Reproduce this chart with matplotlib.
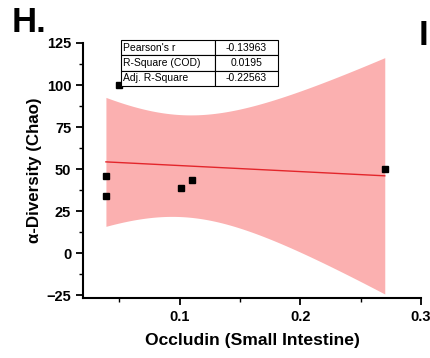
import numpy as np
import matplotlib.pyplot as plt
from matplotlib.ticker import MultipleLocator

plt.rcParams['font.family'] = ['Liberation Sans', 'DejaVu Sans']

# Occludin (small intestine) vs Chao index
occludin = [0.039, 0.039, 0.0495, 0.101, 0.110, 0.270]
chao = [46.0, 34.0, 100.0, 39.0, 43.5, 50.0]

stat_names = ["Pearson's r", 'R-Square (COD)', 'Adj. R-Square']
stat_values = ['-0.13963', '0.0195', '-0.22563']

x = np.array(occludin)
y = np.array(chao)
n = len(x)

# linear fit and 95% confidence band of the mean
slope, intercept = np.polyfit(x, y, 1)
resid = y - (slope * x + intercept)
s = np.sqrt(np.sum(resid ** 2) / (n - 2))
sxx = np.sum((x - x.mean()) ** 2)
t95 = 2.776
xf = np.linspace(x.min(), x.max(), 200)
yf = slope * xf + intercept
half = t95 * s * np.sqrt(1 / n + (xf - x.mean()) ** 2 / sxx)

fig = plt.figure(figsize=(4.3, 3.58), dpi=100)
ax = fig.add_axes([0.193, 0.168, 0.786, 0.712])

ax.fill_between(xf, yf - half, yf + half, color='#fbb0b0', lw=0, zorder=1)
ax.plot(xf, yf, color='#e3262b', lw=1.0, zorder=2)
ax.plot(x, y, 's', color='black', ms=4.5, zorder=3)

ax.set_xlim(0.02, 0.3)
ax.set_ylim(-26.5, 125)
ax.xaxis.set_major_locator(MultipleLocator(0.1))
ax.xaxis.set_minor_locator(MultipleLocator(0.05))
ax.yaxis.set_major_locator(MultipleLocator(25))
ax.yaxis.set_minor_locator(MultipleLocator(12.5))
ax.set_xticks([0.1, 0.2, 0.3])
ax.set_xticklabels(['0.1', '0.2', '0.3'])

for side in ['top', 'right']:
    ax.spines[side].set_visible(False)
for side in ['left', 'bottom']:
    ax.spines[side].set_linewidth(1.5)
ax.tick_params(which='major', direction='out', length=5, width=1.3, labelsize=10.5)
ax.tick_params(which='minor', direction='out', length=3, width=1.0)
for lab in ax.get_xticklabels() + ax.get_yticklabels():
    lab.set_fontweight('bold')

ax.set_xlabel('Occludin (Small Intestine)', fontsize=12.6, fontweight='bold', labelpad=7)
ax.set_ylabel('α-Diversity (Chao)', fontsize=12.2, fontweight='bold', labelpad=3)

# statistics table
tab = ax.table(cellText=[[a, b] for a, b in zip(stat_names, stat_values)],
               colWidths=[0.278, 0.186], cellLoc='center',
               bbox=[0.112, 0.831, 0.464, 0.18])
tab.auto_set_font_size(False)
for (r, c), cell in tab.get_celld().items():
    cell.set_linewidth(0.8)
    cell.get_text().set_fontsize(7.5)
    if c == 0:
        cell.get_text().set_ha('left')
        cell.PAD = 0.02
tab.set_zorder(5)

fig.text(0.026, 0.911, 'H.', fontsize=25, fontweight='bold')
fig.text(0.974, 0.874, 'I', fontsize=25, fontweight='bold')

fig.savefig('out.png', dpi=100)
